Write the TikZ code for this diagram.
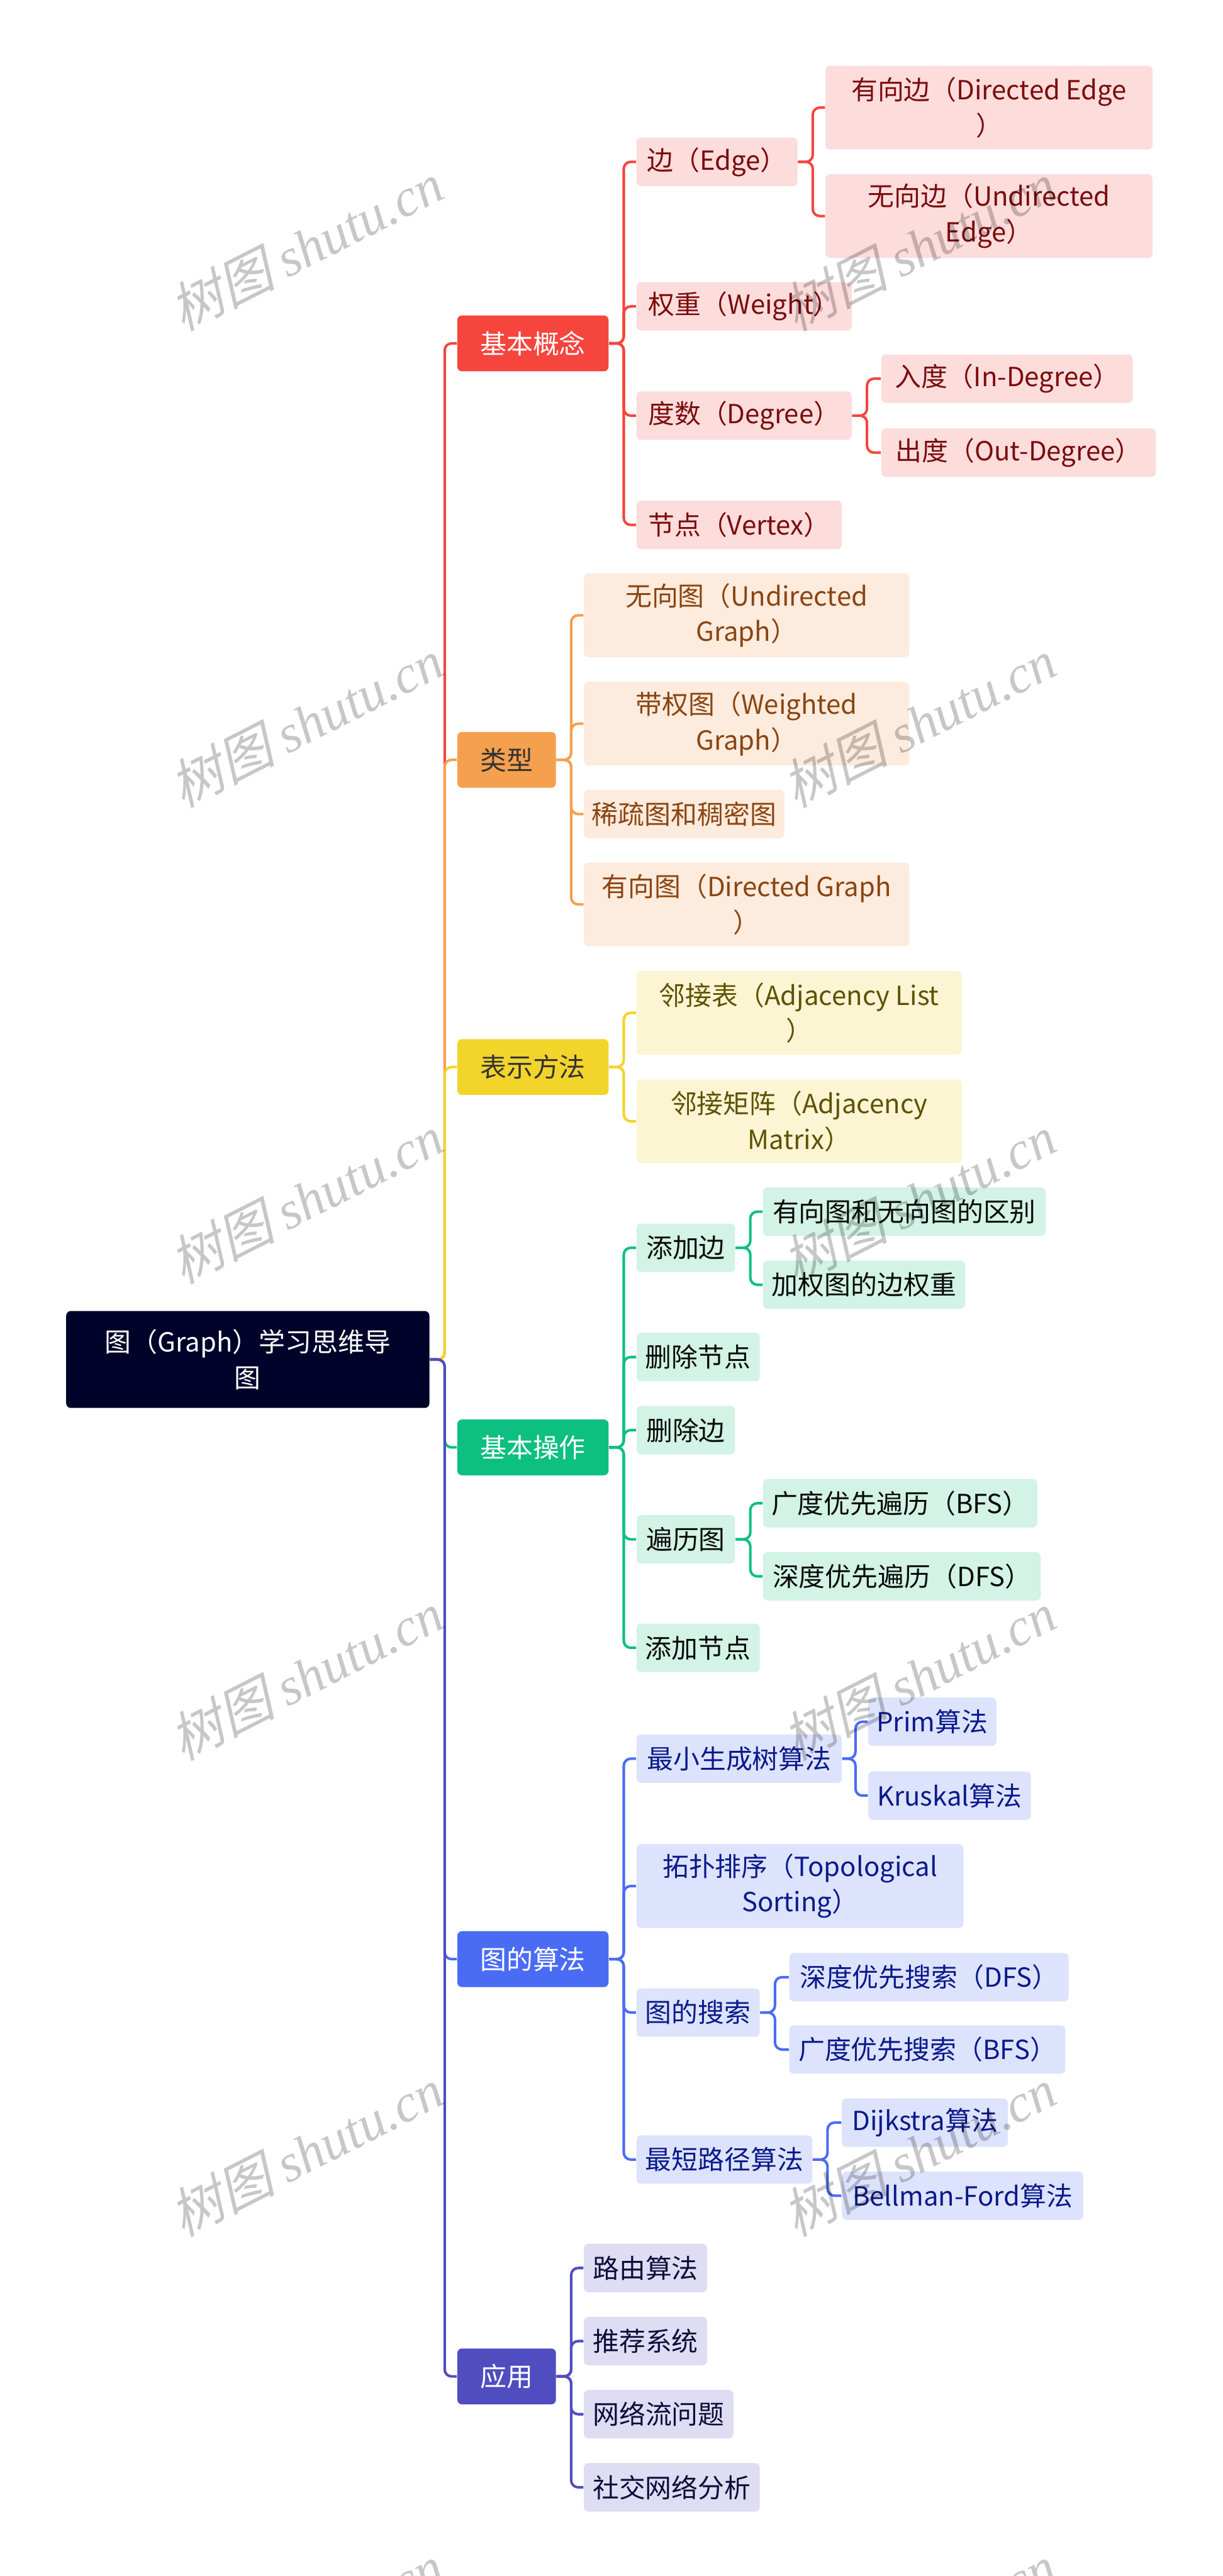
\documentclass[tikz,border=0pt]{standalone}
\usepackage{fontspec}
\setmainfont{Noto Sans CJK SC}
\newfontfamily\wmcjk[FakeSlant=0.25]{Noto Sans CJK SC}
\newfontfamily\wmlat{Liberation Serif}

\definecolor{rootc}{HTML}{000229}
\definecolor{redm}{HTML}{F5453D}\definecolor{redl}{HTML}{FDDCDC}\definecolor{redt}{HTML}{7B0C0C}
\definecolor{orgm}{HTML}{F5A04E}\definecolor{orgl}{HTML}{FDEBDD}\definecolor{orgt}{HTML}{8A4512}
\definecolor{yelm}{HTML}{F2D42B}\definecolor{yell}{HTML}{FCF5D4}\definecolor{yelt}{HTML}{5E5200}
\definecolor{grnm}{HTML}{0DBF80}\definecolor{grnl}{HTML}{D2F3E6}\definecolor{grnt}{HTML}{0A0A0A}
\definecolor{blum}{HTML}{4A6CF5}\definecolor{blul}{HTML}{DDE3FC}\definecolor{blut}{HTML}{0A1A8A}
\definecolor{indm}{HTML}{4F4DBF}\definecolor{indl}{HTML}{DEDDF3}\definecolor{indt}{HTML}{0D0D3A}

\tikzset{
  mapnode/.style={rounded corners=2pt, anchor=west, align=center, inner xsep=3.5pt,
    inner ysep=0pt, font=\fontsize{11.4}{15.4}\selectfont},
  wd/.style={minimum width=#1*0.025cm},
  ht/.style={minimum height=#1*0.025cm},
  rootbox/.style={mapnode, fill=rootc, text=white, ht=59},
  mainbox/.style={mapnode, fill=#1, text=white, ht=34},
  redleaf/.style={mapnode, fill=redl, text=redt, ht=29.5},
  orgleaf/.style={mapnode, fill=orgl, text=orgt, ht=29.5},
  yelleaf/.style={mapnode, fill=yell, text=yelt, ht=29.5},
  grnleaf/.style={mapnode, fill=grnl, text=grnt, ht=29.5},
  bluleaf/.style={mapnode, fill=blul, text=blut, ht=29.5},
  indleaf/.style={mapnode, fill=indl, text=indt, ht=29.5},
  link/.style={line width=1.1pt, rounded corners=3pt},
  wmark/.style={rotate=27, text=black, text opacity=0.22, font=\fontsize{23}{23}\selectfont}
}

\begin{document}
\begin{tikzpicture}[x=0.025cm, y=-0.025cm]
\useasboundingbox (0,0) rectangle (744,1568);
\clip (0,0) rectangle (744,1568);

\node[rootbox, wd=221] (root) at (40,827.5) {图（Graph）学习思维导\\图};

\node[mainbox=redm, wd=92] (gn) at (278,209) {基本概念};
\node[mainbox=orgm, wd=60, text=black!80] (lx) at (278,462.5) {类型};
\node[mainbox=yelm, wd=92, text=black!80] (bs) at (278,649.5) {表示方法};
\node[mainbox=grnm, wd=92] (cz) at (278,881) {基本操作};
\node[mainbox=blum, wd=92] (sf) at (278,1192.5) {图的算法};
\node[mainbox=indm, wd=60] (yy) at (278,1446.5) {应用};

\node[redleaf, wd=98] (bian) at (387,98.5) {边（Edge）};
\node[redleaf, wd=131] (qz) at (387,186.5) {权重（Weight）};
\node[redleaf, wd=131] (ds) at (387,253) {度数（Degree）};
\node[redleaf, wd=125] (jd) at (387,319.5) {节点（Vertex）};
\node[redleaf, wd=199, ht=51] (yxb) at (502,65.5) {有向边（Directed Edge\\）};
\node[redleaf, wd=199, ht=51] (wxb) at (502,131.5) {无向边（Undirected\\Edge）};
\node[redleaf, wd=153] (rd) at (536,230.5) {入度（In-Degree）};
\node[redleaf, wd=167] (cd) at (536,275.5) {出度（Out-Degree）};

\node[orgleaf, wd=198, ht=51] (wxt) at (355,374.5) {无向图（Undirected\\Graph）};
\node[orgleaf, wd=198, ht=51] (dqt) at (355,440.5) {带权图（Weighted\\Graph）};
\node[orgleaf, wd=122] (xst) at (355,495.5) {稀疏图和稠密图};
\node[orgleaf, wd=198, ht=51] (yxt) at (355,550.5) {有向图（Directed Graph\\）};

\node[yelleaf, wd=198, ht=51] (ljb) at (387,616.5) {邻接表（Adjacency List\\）};
\node[yelleaf, wd=198, ht=51] (ljjz) at (387,682.5) {邻接矩阵（Adjacency\\Matrix）};

\node[grnleaf, wd=60] (tjb) at (387,759.5) {添加边};
\node[grnleaf, wd=75] (scjd) at (387,826) {删除节点};
\node[grnleaf, wd=60] (scb) at (387,870.5) {删除边};
\node[grnleaf, wd=60] (blt) at (387,937) {遍历图};
\node[grnleaf, wd=75] (tjjd) at (387,1003) {添加节点};
\node[grnleaf, wd=172] (qb) at (464,737.5) {有向图和无向图的区别};
\node[grnleaf, wd=123] (jq) at (464,782) {加权图的边权重};
\node[grnleaf, wd=167] (gbl) at (464,915) {广度优先遍历（BFS）};
\node[grnleaf, wd=169] (sbl) at (464,959.5) {深度优先遍历（DFS）};

\node[bluleaf, wd=125] (zxs) at (387,1070.5) {最小生成树算法};
\node[bluleaf, wd=199, ht=51] (tp) at (387,1148) {拓扑排序（Topological\\Sorting）};
\node[bluleaf, wd=75] (ss) at (387,1225) {图的搜索};
\node[bluleaf, wd=107] (zdl) at (387,1314.5) {最短路径算法};
\node[bluleaf, wd=78] (prim) at (528,1048) {Prim算法};
\node[bluleaf, wd=99] (krus) at (528,1093) {Kruskal算法};
\node[bluleaf, wd=170] (sdfs) at (480,1203.5) {深度优先搜索（DFS）};
\node[bluleaf, wd=168] (sbfs) at (480,1247.5) {广度优先搜索（BFS）};
\node[bluleaf, wd=101] (dij) at (512,1292) {Dijkstra算法};
\node[bluleaf, wd=147] (bf) at (512,1336.5) {Bellman-Ford算法};

\node[indleaf, wd=75] (ly) at (355,1380.5) {路由算法};
\node[indleaf, wd=75] (tj) at (355,1425) {推荐系统};
\node[indleaf, wd=91] (wll) at (355,1469.5) {网络流问题};
\node[indleaf, wd=107] (sj) at (355,1514) {社交网络分析};

\draw[link, redm] (root.east) -- ++(9,0) |- (gn.west);
\draw[link, orgm] (root.east) -- ++(9,0) |- (lx.west);
\draw[link, yelm] (root.east) -- ++(9,0) |- (bs.west);
\draw[link, grnm] (root.east) -- ++(9,0) |- (cz.west);
\draw[link, blum] (root.east) -- ++(9,0) |- (sf.west);
\draw[link, indm] (root.east) -- ++(9,0) |- (yy.west);

\draw[link, redm] (gn.east) -- ++(9,0) |- (bian.west);
\draw[link, redm] (gn.east) -- ++(9,0) |- (qz.west);
\draw[link, redm] (gn.east) -- ++(9,0) |- (ds.west);
\draw[link, redm] (gn.east) -- ++(9,0) |- (jd.west);
\draw[link, redm] (bian.east) -- ++(9,0) |- (yxb.west);
\draw[link, redm] (bian.east) -- ++(9,0) |- (wxb.west);
\draw[link, redm] (ds.east) -- ++(9,0) |- (rd.west);
\draw[link, redm] (ds.east) -- ++(9,0) |- (cd.west);

\draw[link, orgm] (lx.east) -- ++(9,0) |- (wxt.west);
\draw[link, orgm] (lx.east) -- ++(9,0) |- (dqt.west);
\draw[link, orgm] (lx.east) -- ++(9,0) |- (xst.west);
\draw[link, orgm] (lx.east) -- ++(9,0) |- (yxt.west);

\draw[link, yelm] (bs.east) -- ++(9,0) |- (ljb.west);
\draw[link, yelm] (bs.east) -- ++(9,0) |- (ljjz.west);

\draw[link, grnm] (cz.east) -- ++(9,0) |- (tjb.west);
\draw[link, grnm] (cz.east) -- ++(9,0) |- (scjd.west);
\draw[link, grnm] (cz.east) -- ++(9,0) |- (scb.west);
\draw[link, grnm] (cz.east) -- ++(9,0) |- (blt.west);
\draw[link, grnm] (cz.east) -- ++(9,0) |- (tjjd.west);
\draw[link, grnm] (tjb.east) -- ++(9,0) |- (qb.west);
\draw[link, grnm] (tjb.east) -- ++(9,0) |- (jq.west);
\draw[link, grnm] (blt.east) -- ++(9,0) |- (gbl.west);
\draw[link, grnm] (blt.east) -- ++(9,0) |- (sbl.west);

\draw[link, blum] (sf.east) -- ++(9,0) |- (zxs.west);
\draw[link, blum] (sf.east) -- ++(9,0) |- (tp.west);
\draw[link, blum] (sf.east) -- ++(9,0) |- (ss.west);
\draw[link, blum] (sf.east) -- ++(9,0) |- (zdl.west);
\draw[link, blum] (zxs.east) -- ++(8,0) |- (prim.west);
\draw[link, blum] (zxs.east) -- ++(8,0) |- (krus.west);
\draw[link, blum] (ss.east) -- ++(9,0) |- (sdfs.west);
\draw[link, blum] (ss.east) -- ++(9,0) |- (sbfs.west);
\draw[link, blum] (zdl.east) -- ++(9,0) |- (dij.west);
\draw[link, blum] (zdl.east) -- ++(9,0) |- (bf.west);

\draw[link, indm] (yy.east) -- ++(9,0) |- (ly.west);
\draw[link, indm] (yy.east) -- ++(9,0) |- (tj.west);
\draw[link, indm] (yy.east) -- ++(9,0) |- (wll.west);
\draw[link, indm] (yy.east) -- ++(9,0) |- (sj.west);

\node[wmark] (wm1) at (186,150) {{\wmcjk 树图} {\wmlat\itshape shutu.cn}};
\node[wmark] (wm2) at (559,150) {{\wmcjk 树图} {\wmlat\itshape shutu.cn}};
\node[wmark] (wm3) at (186,440) {{\wmcjk 树图} {\wmlat\itshape shutu.cn}};
\node[wmark] (wm4) at (559,440) {{\wmcjk 树图} {\wmlat\itshape shutu.cn}};
\node[wmark] (wm5) at (186,730) {{\wmcjk 树图} {\wmlat\itshape shutu.cn}};
\node[wmark] (wm6) at (559,730) {{\wmcjk 树图} {\wmlat\itshape shutu.cn}};
\node[wmark] (wm7) at (186,1020) {{\wmcjk 树图} {\wmlat\itshape shutu.cn}};
\node[wmark] (wm8) at (559,1020) {{\wmcjk 树图} {\wmlat\itshape shutu.cn}};
\node[wmark] (wm9) at (186,1310) {{\wmcjk 树图} {\wmlat\itshape shutu.cn}};
\node[wmark] (wm10) at (559,1310) {{\wmcjk 树图} {\wmlat\itshape shutu.cn}};
\node[wmark] (wm11) at (186,1600) {{\wmcjk 树图} {\wmlat\itshape shutu.cn}};
\node[wmark] (wm12) at (559,1600) {{\wmcjk 树图} {\wmlat\itshape shutu.cn}};
\end{tikzpicture}
\end{document}
